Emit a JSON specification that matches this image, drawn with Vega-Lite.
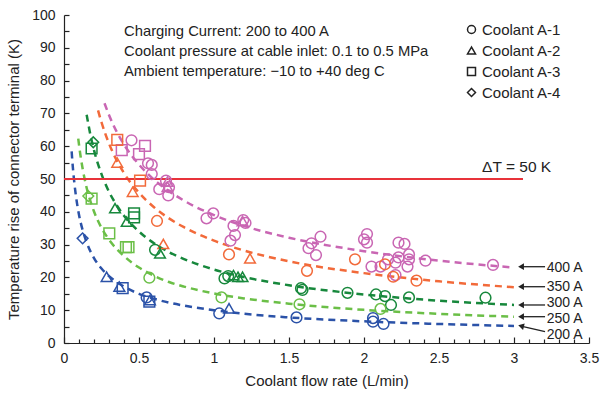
{
  "$schema": "https://vega.github.io/schema/vega-lite/v6.json",
  "width": 525,
  "height": 328,
  "autosize": {"type": "none"},
  "padding": {"left": 64, "top": 15, "right": 12, "bottom": 55},
  "background": "white",
  "config": {
    "view": {"stroke": null},
    "font": "Liberation Sans",
    "axis": {"grid": false, "domainColor": "#222", "tickColor": "#222", "labelColor": "#222", "titleColor": "#222", "labelFont": "Liberation Sans", "titleFont": "Liberation Sans", "labelFontSize": 14, "titleFontSize": 15, "titleFontWeight": "normal", "domainWidth": 1.2, "tickWidth": 1.2}
  },
  "datasets": {
    "curves": [
      {"current": "400 A", "x": 0.27, "y": 73.1}, {"current": "400 A", "x": 0.3, "y": 69.5}, {"current": "400 A", "x": 0.35, "y": 64.5}, {"current": "400 A", "x": 0.4, "y": 60.5}, {"current": "400 A", "x": 0.5, "y": 54.4}, {"current": "400 A", "x": 0.6, "y": 49.8}, {"current": "400 A", "x": 0.7, "y": 46.3}, {"current": "400 A", "x": 0.8, "y": 43.4}, {"current": "400 A", "x": 1.0, "y": 39.0}, {"current": "400 A", "x": 1.2, "y": 35.7}, {"current": "400 A", "x": 1.5, "y": 32.1}, {"current": "400 A", "x": 2.0, "y": 28.0}, {"current": "400 A", "x": 2.5, "y": 25.1}, {"current": "400 A", "x": 3.0, "y": 23.0},
      {"current": "350 A", "x": 0.227, "y": 70.9}, {"current": "350 A", "x": 0.25, "y": 67.3}, {"current": "350 A", "x": 0.3, "y": 60.8}, {"current": "350 A", "x": 0.35, "y": 55.8}, {"current": "350 A", "x": 0.4, "y": 51.8}, {"current": "350 A", "x": 0.5, "y": 45.8}, {"current": "350 A", "x": 0.6, "y": 41.4}, {"current": "350 A", "x": 0.7, "y": 38.0}, {"current": "350 A", "x": 0.8, "y": 35.3}, {"current": "350 A", "x": 1.0, "y": 31.2}, {"current": "350 A", "x": 1.2, "y": 28.2}, {"current": "350 A", "x": 1.5, "y": 24.9}, {"current": "350 A", "x": 2.0, "y": 21.3}, {"current": "350 A", "x": 2.5, "y": 18.8}, {"current": "350 A", "x": 3.0, "y": 17.0},
      {"current": "300 A", "x": 0.151, "y": 69.6}, {"current": "300 A", "x": 0.175, "y": 63.7}, {"current": "300 A", "x": 0.2, "y": 58.8}, {"current": "300 A", "x": 0.25, "y": 51.5}, {"current": "300 A", "x": 0.3, "y": 46.1}, {"current": "300 A", "x": 0.35, "y": 42.1}, {"current": "300 A", "x": 0.4, "y": 38.8}, {"current": "300 A", "x": 0.5, "y": 34.0}, {"current": "300 A", "x": 0.6, "y": 30.4}, {"current": "300 A", "x": 0.7, "y": 27.7}, {"current": "300 A", "x": 0.8, "y": 25.6}, {"current": "300 A", "x": 1.0, "y": 22.4}, {"current": "300 A", "x": 1.2, "y": 20.1}, {"current": "300 A", "x": 1.5, "y": 17.6}, {"current": "300 A", "x": 2.0, "y": 14.8}, {"current": "300 A", "x": 2.5, "y": 12.9}, {"current": "300 A", "x": 3.0, "y": 11.6},
      {"current": "250 A", "x": 0.095, "y": 62.3}, {"current": "250 A", "x": 0.11, "y": 57.1}, {"current": "250 A", "x": 0.125, "y": 53.0}, {"current": "250 A", "x": 0.15, "y": 47.5}, {"current": "250 A", "x": 0.175, "y": 43.4}, {"current": "250 A", "x": 0.2, "y": 40.1}, {"current": "250 A", "x": 0.25, "y": 35.1}, {"current": "250 A", "x": 0.3, "y": 31.5}, {"current": "250 A", "x": 0.4, "y": 26.5}, {"current": "250 A", "x": 0.5, "y": 23.0}, {"current": "250 A", "x": 0.6, "y": 20.5}, {"current": "250 A", "x": 0.7, "y": 18.6}, {"current": "250 A", "x": 0.8, "y": 17.2}, {"current": "250 A", "x": 1.0, "y": 15.1}, {"current": "250 A", "x": 1.2, "y": 13.6}, {"current": "250 A", "x": 1.5, "y": 12.0}, {"current": "250 A", "x": 2.0, "y": 10.1}, {"current": "250 A", "x": 2.5, "y": 8.9}, {"current": "250 A", "x": 3.0, "y": 8.0},
      {"current": "200 A", "x": 0.051, "y": 58.4}, {"current": "200 A", "x": 0.06, "y": 53.0}, {"current": "200 A", "x": 0.07, "y": 48.4}, {"current": "200 A", "x": 0.08, "y": 44.7}, {"current": "200 A", "x": 0.1, "y": 39.1}, {"current": "200 A", "x": 0.125, "y": 34.3}, {"current": "200 A", "x": 0.15, "y": 30.8}, {"current": "200 A", "x": 0.2, "y": 25.9}, {"current": "200 A", "x": 0.25, "y": 22.7}, {"current": "200 A", "x": 0.3, "y": 20.4}, {"current": "200 A", "x": 0.4, "y": 17.2}, {"current": "200 A", "x": 0.5, "y": 15.0}, {"current": "200 A", "x": 0.6, "y": 13.5}, {"current": "200 A", "x": 0.7, "y": 12.3}, {"current": "200 A", "x": 0.8, "y": 11.4}, {"current": "200 A", "x": 1.0, "y": 10.0}, {"current": "200 A", "x": 1.2, "y": 8.9}, {"current": "200 A", "x": 1.5, "y": 7.8}, {"current": "200 A", "x": 2.0, "y": 6.6}, {"current": "200 A", "x": 2.5, "y": 5.8}, {"current": "200 A", "x": 3.0, "y": 5.2}
    ],
    "points": [
      {"current": "400 A", "coolant": "Coolant A-1", "x": 0.45, "y": 61.8}, {"current": "400 A", "coolant": "Coolant A-1", "x": 0.56, "y": 54.8}, {"current": "400 A", "coolant": "Coolant A-1", "x": 0.585, "y": 51.5}, {"current": "400 A", "coolant": "Coolant A-1", "x": 0.585, "y": 54.3}, {"current": "400 A", "coolant": "Coolant A-1", "x": 0.635, "y": 46.9}, {"current": "400 A", "coolant": "Coolant A-1", "x": 0.68, "y": 49.5}, {"current": "400 A", "coolant": "Coolant A-1", "x": 0.695, "y": 45.0}, {"current": "400 A", "coolant": "Coolant A-1", "x": 0.7, "y": 47.5},
      {"current": "400 A", "coolant": "Coolant A-1", "x": 0.95, "y": 38.0}, {"current": "400 A", "coolant": "Coolant A-1", "x": 0.995, "y": 39.5}, {"current": "400 A", "coolant": "Coolant A-1", "x": 1.13, "y": 35.7}, {"current": "400 A", "coolant": "Coolant A-1", "x": 1.14, "y": 32.9}, {"current": "400 A", "coolant": "Coolant A-1", "x": 1.11, "y": 31.2}, {"current": "400 A", "coolant": "Coolant A-1", "x": 1.195, "y": 37.5}, {"current": "400 A", "coolant": "Coolant A-1", "x": 1.21, "y": 36.6},
      {"current": "400 A", "coolant": "Coolant A-1", "x": 1.65, "y": 30.4}, {"current": "400 A", "coolant": "Coolant A-1", "x": 1.63, "y": 28.9}, {"current": "400 A", "coolant": "Coolant A-1", "x": 1.71, "y": 32.4}, {"current": "400 A", "coolant": "Coolant A-1", "x": 1.68, "y": 26.8},
      {"current": "400 A", "coolant": "Coolant A-1", "x": 2.02, "y": 33.2}, {"current": "400 A", "coolant": "Coolant A-1", "x": 2.0, "y": 31.6}, {"current": "400 A", "coolant": "Coolant A-1", "x": 2.02, "y": 30.6}, {"current": "400 A", "coolant": "Coolant A-1", "x": 2.23, "y": 30.6}, {"current": "400 A", "coolant": "Coolant A-1", "x": 2.27, "y": 30.2}, {"current": "400 A", "coolant": "Coolant A-1", "x": 2.05, "y": 23.3}, {"current": "400 A", "coolant": "Coolant A-1", "x": 2.11, "y": 23.3}, {"current": "400 A", "coolant": "Coolant A-1", "x": 2.16, "y": 25.5}, {"current": "400 A", "coolant": "Coolant A-1", "x": 2.21, "y": 24.5}, {"current": "400 A", "coolant": "Coolant A-1", "x": 2.23, "y": 26.1}, {"current": "400 A", "coolant": "Coolant A-1", "x": 2.3, "y": 25.5}, {"current": "400 A", "coolant": "Coolant A-1", "x": 2.29, "y": 23.3}, {"current": "400 A", "coolant": "Coolant A-1", "x": 2.3, "y": 27.0}, {"current": "400 A", "coolant": "Coolant A-1", "x": 2.41, "y": 25.1}, {"current": "400 A", "coolant": "Coolant A-1", "x": 2.21, "y": 20.7}, {"current": "400 A", "coolant": "Coolant A-1", "x": 2.86, "y": 23.8},
      {"current": "400 A", "coolant": "Coolant A-2", "x": 0.69, "y": 49.2}, {"current": "400 A", "coolant": "Coolant A-2", "x": 0.69, "y": 47.6}, {"current": "400 A", "coolant": "Coolant A-2", "x": 1.19, "y": 37.2},
      {"current": "400 A", "coolant": "Coolant A-3", "x": 0.385, "y": 58.8}, {"current": "400 A", "coolant": "Coolant A-3", "x": 0.5, "y": 57.6}, {"current": "400 A", "coolant": "Coolant A-3", "x": 0.54, "y": 60.1},
      {"current": "350 A", "coolant": "Coolant A-1", "x": 0.62, "y": 37.2}, {"current": "350 A", "coolant": "Coolant A-1", "x": 1.1, "y": 27.0}, {"current": "350 A", "coolant": "Coolant A-1", "x": 1.62, "y": 22.0}, {"current": "350 A", "coolant": "Coolant A-1", "x": 1.94, "y": 25.5}, {"current": "350 A", "coolant": "Coolant A-1", "x": 2.14, "y": 24.0}, {"current": "350 A", "coolant": "Coolant A-1", "x": 2.195, "y": 20.2}, {"current": "350 A", "coolant": "Coolant A-1", "x": 2.35, "y": 19.0},
      {"current": "350 A", "coolant": "Coolant A-2", "x": 0.355, "y": 55.0}, {"current": "350 A", "coolant": "Coolant A-2", "x": 0.458, "y": 46.1}, {"current": "350 A", "coolant": "Coolant A-2", "x": 0.662, "y": 30.2}, {"current": "350 A", "coolant": "Coolant A-2", "x": 1.24, "y": 25.8},
      {"current": "350 A", "coolant": "Coolant A-3", "x": 0.355, "y": 61.9}, {"current": "350 A", "coolant": "Coolant A-3", "x": 0.507, "y": 49.5},
      {"current": "300 A", "coolant": "Coolant A-1", "x": 0.607, "y": 28.4}, {"current": "300 A", "coolant": "Coolant A-1", "x": 1.07, "y": 19.7}, {"current": "300 A", "coolant": "Coolant A-1", "x": 1.095, "y": 20.4}, {"current": "300 A", "coolant": "Coolant A-1", "x": 1.58, "y": 16.7}, {"current": "300 A", "coolant": "Coolant A-1", "x": 1.59, "y": 16.2}, {"current": "300 A", "coolant": "Coolant A-1", "x": 1.89, "y": 15.3}, {"current": "300 A", "coolant": "Coolant A-1", "x": 2.08, "y": 14.8}, {"current": "300 A", "coolant": "Coolant A-1", "x": 2.14, "y": 14.3}, {"current": "300 A", "coolant": "Coolant A-1", "x": 2.18, "y": 11.6}, {"current": "300 A", "coolant": "Coolant A-1", "x": 2.3, "y": 13.9}, {"current": "300 A", "coolant": "Coolant A-1", "x": 2.81, "y": 13.8},
      {"current": "300 A", "coolant": "Coolant A-2", "x": 0.34, "y": 41.1}, {"current": "300 A", "coolant": "Coolant A-2", "x": 0.418, "y": 37.0}, {"current": "300 A", "coolant": "Coolant A-2", "x": 0.64, "y": 27.3}, {"current": "300 A", "coolant": "Coolant A-2", "x": 1.13, "y": 20.7}, {"current": "300 A", "coolant": "Coolant A-2", "x": 1.16, "y": 20.2}, {"current": "300 A", "coolant": "Coolant A-2", "x": 1.19, "y": 20.2},
      {"current": "300 A", "coolant": "Coolant A-3", "x": 0.467, "y": 39.5}, {"current": "300 A", "coolant": "Coolant A-3", "x": 0.467, "y": 38.3}, {"current": "300 A", "coolant": "Coolant A-3", "x": 0.184, "y": 59.3},
      {"current": "300 A", "coolant": "Coolant A-4", "x": 0.195, "y": 61.2},
      {"current": "250 A", "coolant": "Coolant A-1", "x": 0.569, "y": 19.9}, {"current": "250 A", "coolant": "Coolant A-1", "x": 1.05, "y": 13.9}, {"current": "250 A", "coolant": "Coolant A-1", "x": 1.57, "y": 11.8}, {"current": "250 A", "coolant": "Coolant A-1", "x": 2.11, "y": 10.4},
      {"current": "250 A", "coolant": "Coolant A-3", "x": 0.184, "y": 44.0}, {"current": "250 A", "coolant": "Coolant A-3", "x": 0.302, "y": 33.4}, {"current": "250 A", "coolant": "Coolant A-3", "x": 0.413, "y": 29.2}, {"current": "250 A", "coolant": "Coolant A-3", "x": 0.43, "y": 29.2},
      {"current": "250 A", "coolant": "Coolant A-4", "x": 0.162, "y": 44.8},
      {"current": "200 A", "coolant": "Coolant A-1", "x": 0.551, "y": 13.9}, {"current": "200 A", "coolant": "Coolant A-1", "x": 1.035, "y": 9.0}, {"current": "200 A", "coolant": "Coolant A-1", "x": 1.55, "y": 7.8}, {"current": "200 A", "coolant": "Coolant A-1", "x": 2.06, "y": 7.6}, {"current": "200 A", "coolant": "Coolant A-1", "x": 2.06, "y": 6.5}, {"current": "200 A", "coolant": "Coolant A-1", "x": 2.13, "y": 5.8},
      {"current": "200 A", "coolant": "Coolant A-2", "x": 0.284, "y": 20.2}, {"current": "200 A", "coolant": "Coolant A-2", "x": 0.369, "y": 17.2}, {"current": "200 A", "coolant": "Coolant A-2", "x": 0.573, "y": 13.1}, {"current": "200 A", "coolant": "Coolant A-2", "x": 1.1, "y": 10.6},
      {"current": "200 A", "coolant": "Coolant A-3", "x": 0.391, "y": 16.7}, {"current": "200 A", "coolant": "Coolant A-3", "x": 0.569, "y": 12.6},
      {"current": "200 A", "coolant": "Coolant A-4", "x": 0.124, "y": 31.9}
    ],
    "notes": [
      {"text": "Charging Current: 200 to 400 A", "x": 0.4, "y": 94.8},
      {"text": "Coolant pressure at cable inlet: 0.1 to 0.5 MPa", "x": 0.4, "y": 88.7},
      {"text": "Ambient temperature: \u221210 to +40 deg C", "x": 0.4, "y": 82.6}
    ],
    "delta": [{"text": "\u0394T = 50 K", "x": 2.787, "y": 53.7}],
    "threshold": [{"x": 0, "x2": 3.06, "y": 50}],
    "labels": [
      {"text": "400 A", "x": 3.218, "y": 22.8},
      {"text": "350 A", "x": 3.218, "y": 17.0},
      {"text": "300 A", "x": 3.218, "y": 12.3},
      {"text": "250 A", "x": 3.218, "y": 7.4},
      {"text": "200 A", "x": 3.218, "y": 2.5}
    ],
    "arrows": [
      {"current": "400 A", "x": 3.047, "y": 23.26, "x2": 3.207, "y2": 23.26},
      {"current": "350 A", "x": 3.047, "y": 17.16, "x2": 3.207, "y2": 17.16},
      {"current": "300 A", "x": 3.047, "y": 11.59, "x2": 3.207, "y2": 11.59},
      {"current": "250 A", "x": 3.047, "y": 8.02, "x2": 3.207, "y2": 8.02},
      {"current": "200 A", "x": 3.047, "y": 5.18, "x2": 3.207, "y2": 3.45}
    ]
  },
  "encoding": {
    "x": {"field": "x", "type": "quantitative", "scale": {"domain": [0, 3.5], "nice": false, "zero": false},
      "axis": {"title": "Coolant flow rate (L/min)", "values": [0, 0.1, 0.2, 0.3, 0.4, 0.5, 0.6, 0.7, 0.8, 0.9, 1, 1.1, 1.2, 1.3, 1.4, 1.5, 1.6, 1.7, 1.8, 1.9, 2, 2.1, 2.2, 2.3, 2.4, 2.5, 2.6, 2.7, 2.8, 2.9, 3, 3.1, 3.2, 3.3, 3.4, 3.5],
        "labelExpr": "abs(datum.value*2 - round(datum.value*2)) < 0.001 ? format(datum.value, '~g') : ''",
        "tickSize": {"condition": {"test": "abs(datum.value*2 - round(datum.value*2)) < 0.001", "value": -6}, "value": -4},
        "labelPadding": 14, "titlePadding": 6, "labelFlush": false, "labelOverlap": false}},
    "y": {"field": "y", "type": "quantitative", "scale": {"domain": [0, 100], "nice": false, "zero": false},
      "axis": {"title": "Temperature rise  of connector terminal (K)", "values": [0, 5, 10, 15, 20, 25, 30, 35, 40, 45, 50, 55, 60, 65, 70, 75, 80, 85, 90, 95, 100],
        "labelExpr": "datum.value % 10 == 0 ? datum.label : ''",
        "tickSize": -5, "labelPadding": 14, "titlePadding": 10, "labelOverlap": false}}
  },
  "layer": [
    {
      "data": {"name": "curves"},
      "mark": {"type": "line", "strokeWidth": 2.5, "strokeDash": [7, 5], "interpolate": "monotone"},
      "encoding": {
        "color": {"field": "current", "type": "nominal", "scale": {"domain": ["400 A", "350 A", "300 A", "250 A", "200 A"], "range": ["#c966b3", "#f26a3a", "#17883c", "#6bbf47", "#2b52a8"]}, "legend": null},
        "detail": {"field": "current"}
      }
    },
    {
      "data": {"name": "threshold"},
      "mark": {"type": "rule", "color": "#e8333a", "strokeWidth": 2},
      "encoding": {"x2": {"field": "x2"}}
    },
    {
      "data": {"name": "points"},
      "mark": {"type": "point", "filled": false, "strokeWidth": 1.5, "size": 115, "opacity": 1},
      "encoding": {
        "color": {"field": "current", "type": "nominal", "scale": {"domain": ["400 A", "350 A", "300 A", "250 A", "200 A"], "range": ["#c966b3", "#f26a3a", "#17883c", "#6bbf47", "#2b52a8"]}, "legend": null},
        "shape": {"field": "coolant", "type": "nominal", "scale": {"domain": ["Coolant A-1", "Coolant A-2", "Coolant A-3", "Coolant A-4"], "range": ["circle", "triangle-up", "square", "diamond"]},
          "legend": {"title": null, "orient": "none", "legendX": 400, "legendY": 7, "symbolStrokeColor": "#222", "symbolFillColor": "transparent", "symbolStrokeWidth": 1.5, "symbolSize": 64, "labelFontSize": 15, "labelFont": "Liberation Sans", "labelColor": "#222", "labelOffset": 3, "rowPadding": 5, "padding": 0}}
      }
    },
    {
      "data": {"name": "notes"},
      "mark": {"type": "text", "align": "left", "baseline": "middle", "fontSize": 14.8, "font": "Liberation Sans", "color": "#222"},
      "encoding": {"text": {"field": "text"}}
    },
    {
      "data": {"name": "delta"},
      "mark": {"type": "text", "align": "left", "baseline": "middle", "fontSize": 15.5, "font": "Liberation Sans", "color": "#222"},
      "encoding": {"text": {"field": "text"}}
    },
    {
      "data": {"name": "labels"},
      "mark": {"type": "text", "align": "left", "baseline": "middle", "fontSize": 14, "font": "Liberation Sans", "color": "#222"},
      "encoding": {"text": {"field": "text"}}
    },
    {
      "data": {"name": "arrows"},
      "mark": {"type": "rule", "color": "#222", "strokeWidth": 1.3},
      "encoding": {"x2": {"field": "x2"}, "y2": {"field": "y2"}}
    },
    {
      "data": {"name": "arrows"},
      "transform": [{"filter": "datum.current != '200 A'"}],
      "mark": {"type": "point", "shape": "triangle-left", "filled": true, "color": "#222", "size": 45, "opacity": 1}
    },
    {
      "data": {"name": "arrows"},
      "transform": [{"filter": "datum.current == '200 A'"}],
      "mark": {"type": "point", "shape": "triangle-left", "filled": true, "color": "#222", "size": 45, "opacity": 1, "angle": 14}
    }
  ]
}
